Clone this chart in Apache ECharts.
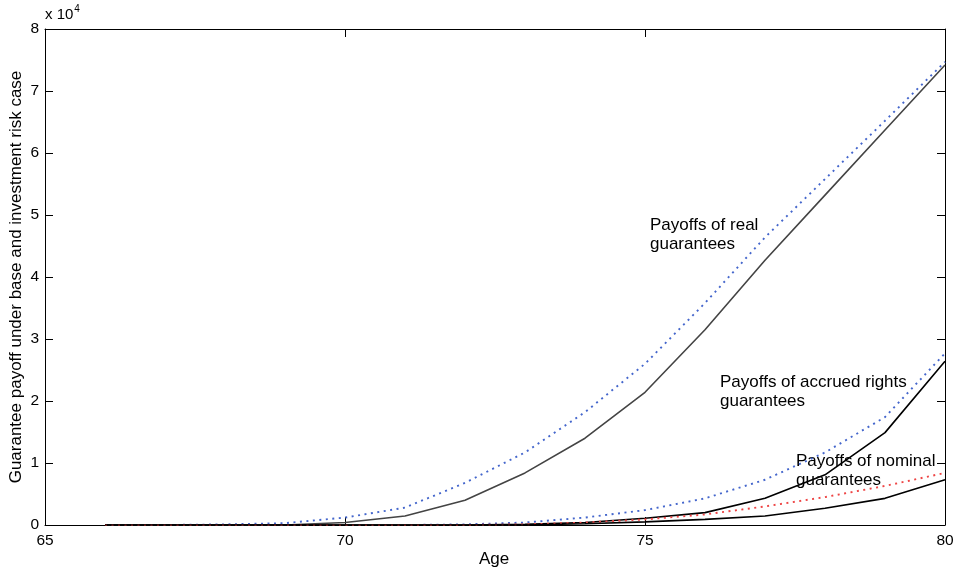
<!DOCTYPE html>
<html>
<head>
<meta charset="utf-8">
<script src="https://cdn.jsdelivr.net/npm/echarts@6/dist/echarts.min.js"></script>
<style>
  html, body { margin: 0; padding: 0; background: #fff; }
  #chart { width: 962px; height: 571px; }
</style>
</head>
<body>
<div id="chart"></div>
<script>
// Age of the member (x axis)
const ages = [66, 67, 68, 69, 70, 71, 72, 73, 74, 75, 76, 77, 78, 79, 80];

// Guarantee payoffs, base case (solid) and investment risk case (dotted)
const realBase        = [0, 0, 0, 0, 400, 1450, 4000, 8400, 14000, 21400, 31500, 42700, 53200, 63700, 74200];
const realRisk        = [0, 0, 100, 300, 1200, 2800, 6800, 11700, 18200, 26000, 35800, 46400, 55800, 65200, 74700];
const accruedBase     = [0, 0, 0, 0, 0, 0, 0, 100, 400, 1100, 2000, 4300, 8100, 14900, 26400];
const accruedRisk     = [0, 0, 0, 0, 0, 0, 100, 400, 1200, 2400, 4300, 7300, 11700, 17400, 27700];
const nominalBase     = [0, 0, 0, 0, 0, 0, 0, 0, 200, 500, 900, 1450, 2700, 4300, 7300];
const nominalRisk     = [0, 0, 0, 0, 0, 0, 0, 100, 400, 900, 1700, 3000, 4500, 6300, 8400];

// Axis ticks
const xTicks = [65, 70, 75, 80];
const yTicks = [0, 1, 2, 3, 4, 5, 6, 7, 8];
const yScale = 10000;

const FONT = '"Liberation Sans", Arial, Helvetica, sans-serif';

function pairs(vals) {
  return ages.map((a, i) => [a, vals[i]]);
}

const chart = echarts.init(document.getElementById('chart'), null, { renderer: 'canvas' });

const axisLine = { show: true, onZero: false, lineStyle: { color: '#000', width: 1 } };
const tickIn = { show: true, inside: true, length: 8, lineStyle: { color: '#000', width: 1 } };

const xBase = {
  type: 'value',
  min: xTicks[0],
  max: xTicks[xTicks.length - 1],
  interval: 5,
  axisLine: axisLine,
  axisTick: tickIn,
  splitLine: { show: false }
};
const yBase = {
  type: 'value',
  min: yTicks[0] * yScale,
  max: yTicks[yTicks.length - 1] * yScale,
  interval: yScale,
  axisLine: axisLine,
  axisTick: tickIn,
  splitLine: { show: false }
};

function solid(name, vals, color) {
  return {
    name: name, type: 'line', data: pairs(vals), showSymbol: false, symbol: 'none',
    lineStyle: { color: color, width: 1.6, type: 'solid' },
    silent: true, animation: false
  };
}
function dotted(name, vals, color) {
  return {
    name: name, type: 'line', data: pairs(vals), showSymbol: false, symbol: 'none',
    lineStyle: { color: color, width: 1.9, type: [2, 4.5] },
    silent: true, animation: false
  };
}

const annotStyle = { fill: '#000', font: '17px ' + FONT, lineHeight: 19 };

chart.setOption({
  backgroundColor: '#fff',
  animation: false,
  grid: { left: 45, right: 17, top: 29, bottom: 46, containLabel: false },
  xAxis: [
    Object.assign({}, xBase, {
      position: 'bottom',
      axisLabel: { show: true, color: '#000', fontSize: 15.5, fontFamily: FONT, margin: 8 }
    }),
    Object.assign({}, xBase, { position: 'top', axisLabel: { show: false } })
  ],
  yAxis: [
    Object.assign({}, yBase, {
      position: 'left',
      axisLabel: {
        show: true, color: '#000', fontSize: 15.5, fontFamily: FONT, margin: 6,
        formatter: v => String(Math.round(v / yScale))
      }
    }),
    Object.assign({}, yBase, { position: 'right', axisLabel: { show: false } })
  ],
  series: [
    dotted('Real guarantees (investment risk)', realRisk, '#4466cc'),
    solid('Real guarantees (base)', realBase, '#444444'),
    dotted('Accrued rights guarantees (investment risk)', accruedRisk, '#4466cc'),
    solid('Accrued rights guarantees (base)', accruedBase, '#000000'),
    dotted('Nominal guarantees (investment risk)', nominalRisk, '#ee4444'),
    solid('Nominal guarantees (base)', nominalBase, '#000000')
  ],
  graphic: [
    {
      type: 'text', left: 45, top: 4,
      style: {
        text: '{b|x 10}{s|4}',
        rich: {
          b: { font: '15px ' + FONT, fill: '#000', verticalAlign: 'bottom' },
          s: { font: '10px ' + FONT, fill: '#000', verticalAlign: 'top', padding: [0, 0, 8, 1] }
        }
      }
    },
    {
      type: 'text', x: 16, y: 277, rotation: Math.PI / 2,
      style: {
        text: 'Guarantee payoff under base and investment risk case',
        fill: '#000', font: '17px ' + FONT, align: 'center', verticalAlign: 'middle'
      }
    },
    {
      type: 'text', x: 494, y: 559,
      style: { text: 'Age', fill: '#000', font: '17px ' + FONT, align: 'center', verticalAlign: 'middle' }
    },
    {
      type: 'text', x: 650, y: 216,
      style: Object.assign({ text: 'Payoffs of real\nguarantees' }, annotStyle)
    },
    {
      type: 'text', x: 720, y: 373,
      style: Object.assign({ text: 'Payoffs of accrued rights\nguarantees' }, annotStyle)
    },
    {
      type: 'text', x: 796, y: 452,
      style: Object.assign({ text: 'Payoffs of nominal\nguarantees' }, annotStyle)
    }
  ]
});
</script>
</body>
</html>
